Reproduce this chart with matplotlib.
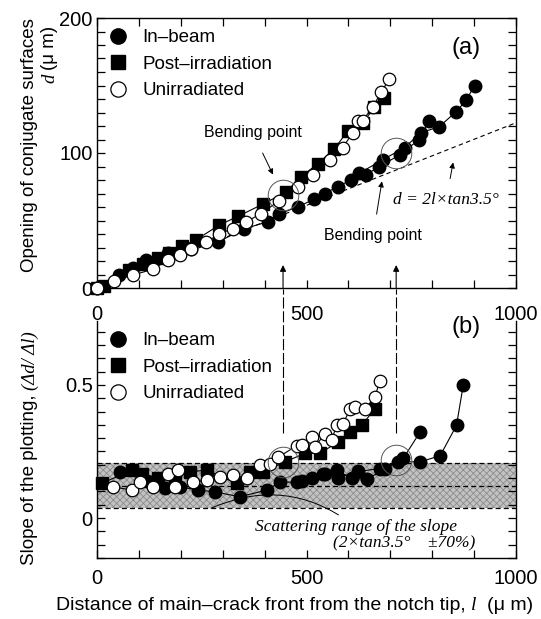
import matplotlib
matplotlib.use("Agg")
import matplotlib.pyplot as plt
from matplotlib.lines import Line2D
from matplotlib.ticker import MultipleLocator, FuncFormatter

plt.rcParams['font.family'] = ['Liberation Sans', 'DejaVu Sans']
plt.rcParams['hatch.linewidth'] = 0.6

# ---- panel (a): crack opening d (um) vs distance l (um) ----
inbeam_a_l = [0, 53, 85, 117, 169, 224, 288, 352, 407, 435, 479, 519, 543, 574, 606, 642, 674, 722, 769, 793]
inbeam_a_d = [0, 9.6, 15, 20.7, 26, 29, 34, 44, 49, 55, 60, 66, 70, 75, 80, 84, 90, 98.5, 110, 124]
inbeam_b_l = [626, 682, 734, 773, 817, 857, 881, 901]
inbeam_b_d = [85, 95, 104, 115, 119.5, 130.6, 139, 150]

post_l = [0, 17, 77, 109, 145, 173, 204, 236, 292, 336, 395, 451, 487, 527, 566, 598, 634, 662, 686]
post_d = [0, 1.5, 13, 18, 22, 26, 31, 35.6, 46.7, 53, 62, 71, 82.5, 92, 103, 116, 122, 134, 140.5]

unirr_l = [0, 41, 85, 133, 169, 197, 224, 260, 292, 324, 356, 391, 435, 479, 515, 555, 586, 610, 622, 634, 658, 678, 698]
unirr_d = [0, 5.4, 9.6, 13.8, 20.7, 24.4, 29, 34, 40, 44, 49, 55, 64.7, 74.6, 83.7, 94.8, 104, 114.6, 124, 124, 134, 145, 155]

ref_l = [0, 1000]
ref_d = [0, 122.4]   # d = 2l x tan3.5

bend_l = [444, 714]
bend_d = [69, 100]

# ---- panel (b): slope dd/dl vs l ----
s_inbeam_a_l = [55, 120, 162, 198, 240, 282, 341, 405, 437, 477, 512, 544, 572, 608, 644, 687, 731, 771]
s_inbeam_a = [0.174, 0.140, 0.112, 0.117, 0.106, 0.098, 0.080, 0.105, 0.135, 0.135, 0.149, 0.167, 0.180, 0.149, 0.146, 0.183, 0.224, 0.323]
s_inbeam_b_l = [489, 540, 576, 624, 675, 719, 771, 819, 858, 874]
s_inbeam_b = [0.140, 0.165, 0.152, 0.175, 0.186, 0.211, 0.211, 0.234, 0.348, 0.498]

s_post_l = [11, 83, 107, 146, 186, 222, 262, 333, 365, 397, 449, 496, 532, 576, 604, 632, 663]
s_post = [0.130, 0.180, 0.167, 0.149, 0.155, 0.174, 0.180, 0.130, 0.174, 0.174, 0.211, 0.243, 0.243, 0.286, 0.323, 0.348, 0.411]

s_unirr_l = [39, 83, 103, 134, 170, 186, 194, 230, 262, 294, 325, 357, 389, 413, 433, 477, 489, 512, 520, 544, 560, 572, 588, 604, 616, 640, 663, 675]
s_unirr = [0.117, 0.105, 0.135, 0.117, 0.167, 0.117, 0.180, 0.135, 0.142, 0.155, 0.161, 0.149, 0.199, 0.204, 0.229, 0.272, 0.273, 0.304, 0.267, 0.317, 0.293, 0.348, 0.355, 0.411, 0.417, 0.411, 0.454, 0.514]

band_lo, band_mid, band_hi = 0.037, 0.122, 0.208
bend_s = [0.210, 0.217]

fig = plt.figure(figsize=(5.41, 6.19), dpi=100)
ax1 = fig.add_axes([97/541, 1-288/619, 419/541, 270/619])
ax2 = fig.add_axes([97/541, 1-558/619, 419/541, 237/619])

ms = 9
line_kw = dict(color='black', lw=0.8)

def draw_series(ax, l, v, style):
    if style == 'inbeam':
        ax.plot(l, v, marker='o', ms=ms, mfc='black', mec='black', clip_on=False, zorder=3, **line_kw)
    elif style == 'post':
        ax.plot(l, v, marker='s', ms=ms - 1, mfc='black', mec='black', clip_on=False, zorder=4, **line_kw)
    else:
        ax.plot(l, v, marker='o', ms=ms, mfc='white', mec='black', mew=0.9, clip_on=False, zorder=5, **line_kw)

# panel (a)
ax1.plot(ref_l, ref_d, color='black', lw=0.8, dashes=(4, 3), zorder=2)
draw_series(ax1, inbeam_a_l, inbeam_a_d, 'inbeam')
draw_series(ax1, inbeam_b_l, inbeam_b_d, 'inbeam')
draw_series(ax1, post_l, post_d, 'post')
draw_series(ax1, unirr_l, unirr_d, 'unirr')
ax1.plot(bend_l, bend_d, ls='none', marker='o', ms=22, mfc='none', mec='#555555', mew=0.7, zorder=6)

ax1.set_xlim(0, 1000)
ax1.set_ylim(0, 200)
ax1.xaxis.set_major_locator(MultipleLocator(500))
ax1.xaxis.set_minor_locator(MultipleLocator(100))
ax1.yaxis.set_major_locator(MultipleLocator(100))
ax1.yaxis.set_minor_locator(MultipleLocator(10))

ax1.text(0.88, 0.89, '(a)', transform=ax1.transAxes, fontsize=17, ha='center', va='center')
ax1.annotate('Bending point', xy=(420, 84), xytext=(372, 115), fontsize=11.5, ha='center', va='center',
             arrowprops=dict(arrowstyle='-|>', color='black', lw=0.7, mutation_scale=8, shrinkA=8, shrinkB=0))
ax1.annotate('Bending point', xy=(680, 79), xytext=(659, 39), fontsize=11.5, ha='center', va='center',
             arrowprops=dict(arrowstyle='-|>', color='black', lw=0.7, mutation_scale=8, shrinkA=8, shrinkB=0))
ax1.annotate('d = 2l\u00d7tan3.5\u00b0', xy=(850, 93), xytext=(833, 65), fontsize=12.5, ha='center', va='center',
             family='Liberation Serif', style='italic',
             arrowprops=dict(arrowstyle='-|>', color='black', lw=0.7, mutation_scale=8, shrinkA=8, shrinkB=0))

# vertical arrows marking the bending points, continued as long dashes into panel (b)
for lx in bend_l:
    ax1.annotate('', xy=(lx, 17), xytext=(lx, 0),
                 arrowprops=dict(arrowstyle='-|>', color='black', lw=0.8, mutation_scale=9, shrinkA=0, shrinkB=0))
    ax2.plot([lx, lx], [0.32, 0.861], color='black', lw=0.8, dashes=(10, 2.5), clip_on=False, zorder=1)

# panel (b)
ax2.fill_between([0, 1000], band_lo, band_hi, facecolor='#c2c2c2', edgecolor='#8c8c8c', hatch='xxxxx', lw=0, zorder=0)
for yv in (band_lo, band_mid, band_hi):
    ax2.axhline(yv, color='black', lw=0.9, dashes=(4, 2.5), zorder=1)
draw_series(ax2, s_inbeam_a_l, s_inbeam_a, 'inbeam')
draw_series(ax2, s_inbeam_b_l, s_inbeam_b, 'inbeam')
draw_series(ax2, s_post_l, s_post, 'post')
draw_series(ax2, s_unirr_l, s_unirr, 'unirr')
ax2.plot(bend_l, bend_s, ls='none', marker='o', ms=22, mfc='none', mec='#555555', mew=0.7, zorder=6)

ax2.set_xlim(0, 1000)
ax2.set_ylim(-0.15, 0.74)
ax2.xaxis.set_major_locator(MultipleLocator(500))
ax2.xaxis.set_minor_locator(MultipleLocator(100))
ax2.yaxis.set_major_locator(MultipleLocator(0.5))
ax2.yaxis.set_minor_locator(MultipleLocator(0.05))
ax2.yaxis.set_major_formatter(FuncFormatter(lambda v, p: '0' if abs(v) < 1e-9 else f'{v:g}'))
ax2.spines['top'].set_visible(False)

ax2.text(0.88, 0.975, '(b)', transform=ax2.transAxes, fontsize=17, ha='center', va='center')
ax2.annotate('Scattering range of the slope', xy=(272, band_lo), xytext=(377, -0.034), fontsize=12.5,
             family='Liberation Serif', style='italic', ha='left', va='center',
             arrowprops=dict(arrowstyle='-', color='black', lw=0.7, shrinkA=2, shrinkB=0,
                             connectionstyle='arc3,rad=0.3'))
ax2.text(563, -0.094, '(2\u00d7tan3.5\u00b0    \u00b170%)', fontsize=12.5, family='Liberation Serif',
         style='italic', ha='left', va='center')

for ax, top, xpad in ((ax1, True, 12), (ax2, False, 8)):
    ax.tick_params(which='both', direction='in', top=top, right=True, labelsize=14.5)
    ax.tick_params(axis='x', pad=xpad)
    ax.tick_params(axis='y', pad=3)
    ax.tick_params(which='major', length=6, width=0.9)
    ax.tick_params(which='minor', length=6, width=0.9)
    for sp in ax.spines.values():
        sp.set_linewidth(1.0)
    handles = [Line2D([], [], ls='none', marker='o', ms=11, mfc='black', mec='black'),
               Line2D([], [], ls='none', marker='s', ms=10, mfc='black', mec='black'),
               Line2D([], [], ls='none', marker='o', ms=11, mfc='white', mec='black', mew=0.9)]
    ax.legend(handles, ['In\u2013beam', 'Post\u2013irradiation', 'Unirradiated'], loc='upper left',
              frameon=False, fontsize=13.5, handlelength=1.0, handletextpad=0.8, labelspacing=0.5,
              borderaxespad=0.2, bbox_to_anchor=(0.0, 1.0))

# axis labels
fig.text(30/541, 1-145/619, 'Opening of conjugate surfaces', rotation=90, fontsize=13.5, ha='center', va='center')
fig.text(50/541, 1-78/619, 'd', rotation=90, fontsize=13.5, family='Liberation Serif', style='italic',
         ha='center', va='center')
fig.text(50/541, 1-70/619, '(\u03bc m)', rotation=90, fontsize=13.5, ha='center', va='bottom')
fig.text(30/541, 1-565/619, 'Slope of the plotting,', rotation=90, fontsize=13.5, ha='center', va='bottom')
fig.text(30/541, 1-390/619, '(\u0394d/ \u0394l)', rotation=90, fontsize=13.5, family='Liberation Serif',
         style='italic', ha='center', va='bottom')
fig.text(466/541, 1-605/619, 'Distance of main\u2013crack front from the notch tip,', fontsize=14,
         ha='right', va='center')
fig.text(471/541, 1-605/619, 'l', fontsize=14, family='Liberation Serif', style='italic', ha='left', va='center')
fig.text(487/541, 1-605/619, '(\u03bc m)', fontsize=14, ha='left', va='center')

fig.savefig('out.png', dpi=100)
